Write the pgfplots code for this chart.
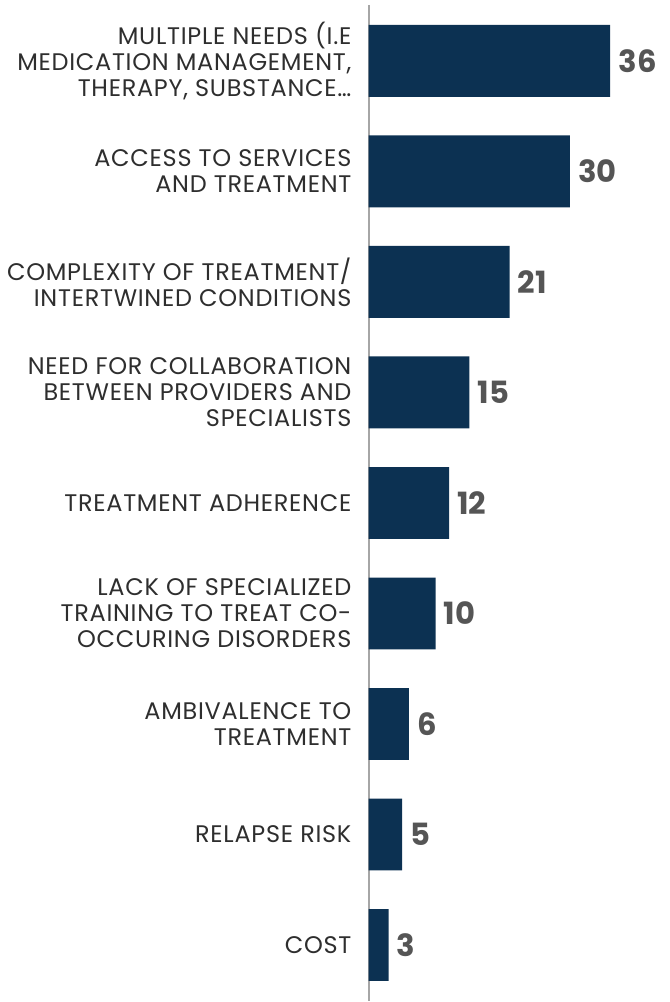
\documentclass[border=0pt]{standalone}
\usepackage{fontspec}
\setmainfont{Poppins}
\newfontfamily\labfont{Poppins}[LetterSpace=3]
\usepackage{pgfplots}
\pgfplotsset{compat=1.18}
\definecolor{barblue}{HTML}{0C3152}
\definecolor{numgray}{HTML}{555555}
\definecolor{labgray}{HTML}{2E2E2E}
\begin{document}
\begin{tikzpicture}
\begin{axis}[
    at={(0,0)}, anchor=south west,
    scale only axis,
    width=225.75pt, height=747.75pt,
    xbar, bar width=54pt,
    xmin=0, xmax=44.8,
    ymin=-0.506, ymax=8.506,
    y dir=reverse,
    axis x line=none,
    axis y line*=left,
    y axis line style={draw=black!35, line width=1.6pt},
    ytick={0,...,8},
    major tick length=0pt,
    /pgf/number format/assume math mode=true,
    yticklabels={
        {MULTIPLE NEEDS (I.E\\MEDICATION MANAGEMENT,\\THERAPY, SUBSTANCE…},
        {ACCESS TO SERVICES\\AND TREATMENT},
        {COMPLEXITY OF TREATMENT/\\INTERTWINED CONDITIONS},
        {NEED FOR COLLABORATION\\BETWEEN PROVIDERS AND\\SPECIALISTS},
        {TREATMENT ADHERENCE},
        {LACK OF SPECIALIZED\\TRAINING TO TREAT CO-\\OCCURING DISORDERS},
        {AMBIVALENCE TO\\TREATMENT},
        {RELAPSE RISK},
        {COST}},
    yticklabel style={align=right, anchor=east, inner sep=0pt, xshift=-12.75pt,
        font=\labfont\fontsize{18}{19.5}\selectfont, text=labgray},
    nodes near coords,
    nodes near coords style={anchor=west, inner sep=0pt, xshift=6pt, text=numgray,
        font=\fontsize{23}{24}\selectfont\bfseries},
]
\addplot[fill=barblue, draw=none] coordinates {
    (36,0) (30,1) (21,2) (15,3) (12,4) (10,5) (6,6) (5,7) (3,8)
};
\end{axis}
\useasboundingbox (-276.75pt,0) rectangle (225.75pt,751.5pt);
\end{tikzpicture}
\end{document}
